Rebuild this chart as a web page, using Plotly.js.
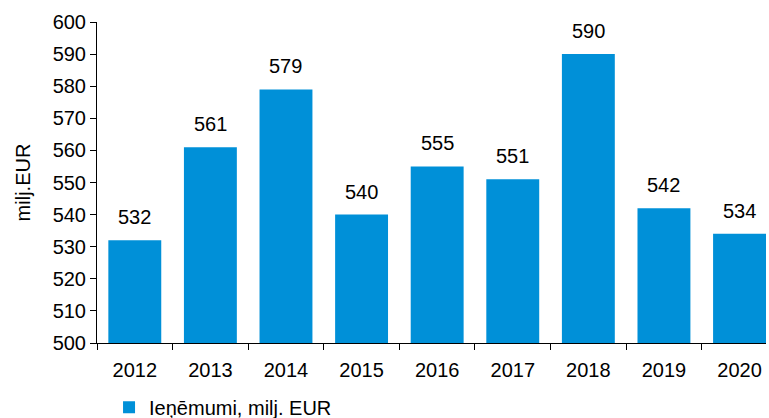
<!DOCTYPE html>
<html>
<head>
<meta charset="utf-8">
<script src="https://cdn.plot.ly/plotly-3.0.1.min.js"></script>
<style>
  html, body { margin: 0; padding: 0; background: #fff; }
  #chart { width: 769px; height: 418px; }
</style>
</head>
<body>
<div id="chart"></div>
<script>
// gadi un ieņēmumi (milj. EUR)
const years = ['2012', '2013', '2014', '2015', '2016', '2017', '2018', '2019', '2020'];
const revenue = [532, 561, 579, 540, 555, 551, 590, 542, 534];
const seriesName = 'Ieņēmumi, milj. EUR';

const BAR_COLOR = '#0090D8';
const FONT = 'Arial, "Liberation Sans", sans-serif';

// kategoriju asij anotācijām jādod indekss, ne gada teksts
const labels = years.map((y, i) => ({
  x: i, y: revenue[i], text: String(revenue[i]),
  showarrow: false, yanchor: 'bottom', yshift: 10,
  font: { size: 20, color: '#000', family: FONT }
}));

Plotly.newPlot('chart', [{
  type: 'bar', x: years, y: revenue, name: seriesName,
  marker: { color: BAR_COLOR },
  hoverinfo: 'x+y'
}], {
  width: 769, height: 418,
  margin: { l: 97, r: 3, t: 22, b: 75 },
  paper_bgcolor: '#fff', plot_bgcolor: '#fff',
  font: { family: FONT, color: '#000', size: 20 },
  bargap: 0.3,
  showlegend: true,
  legend: {
    orientation: 'h', xref: 'paper', yref: 'container',
    x: 0.018, xanchor: 'left', y: 0.026, yanchor: 'middle',
    font: { size: 20 }, itemwidth: 30
  },
  xaxis: {
    type: 'category', range: [-0.5, 8.35],
    showline: true, linecolor: '#000', linewidth: 1,
    ticks: 'outside', ticklen: 6, tickcolor: '#000',
    tickson: 'boundaries', showgrid: false,
    ticklabelstandoff: 9,
    tickfont: { size: 20 }
  },
  yaxis: {
    range: [500, 600], dtick: 10,
    showline: true, linecolor: '#000', linewidth: 1,
    ticks: 'outside', ticklen: 6, tickcolor: '#000',
    showgrid: false, zeroline: false,
    tickfont: { size: 20 },
    title: { text: 'milj.EUR', font: { size: 20 }, standoff: 16 }
  },
  annotations: labels
}, { displayModeBar: false, staticPlot: true });
</script>
</body>
</html>
